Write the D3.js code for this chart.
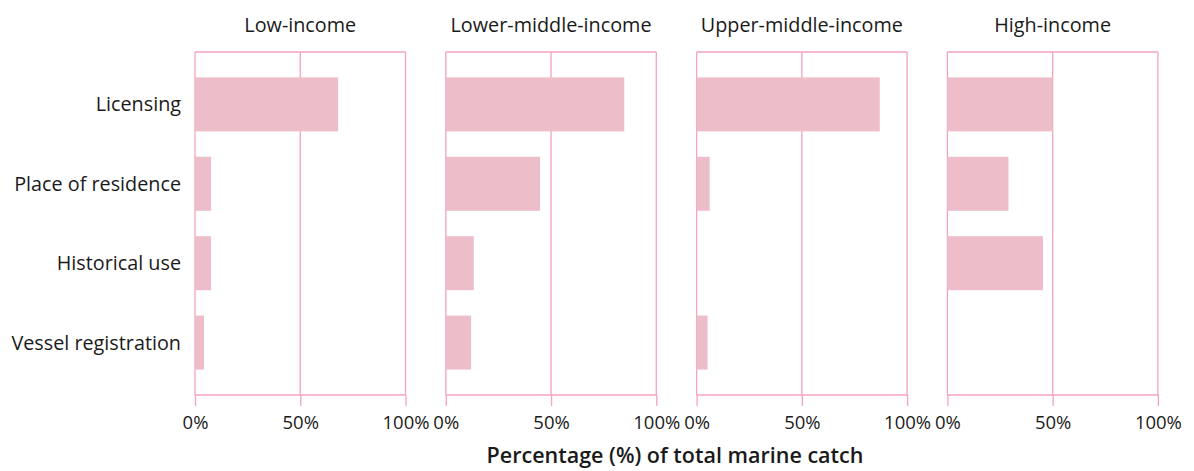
<!DOCTYPE html>
<html><head><meta charset="utf-8">
<script src="https://cdn.jsdelivr.net/npm/d3@7"></script>
<style>body{margin:0;background:#fff}text{font-family:"Open Sans","Noto Sans",sans-serif;fill:#1a1a1a}</style>
</head><body><svg id="c" width="1194" height="471"></svg>
<script>
const panels = ["Low-income","Lower-middle-income","Upper-middle-income","High-income"];
const categories = ["Licensing","Place of residence","Historical use","Vessel registration"];
const lowIncome = [68, 7.6, 7.6, 4.3];
const lowerMiddle = [84.8, 44.8, 13.3, 12];
const upperMiddle = [87, 6.2, 0, 5.2];
const highIncome = [50, 29, 45.4, 0];
const tickValues = [0, 50, 100];
const seriesList = [lowIncome, lowerMiddle, upperMiddle, highIncome];

(function(){
const svg = d3.select("#c");
const plotTop = 52, plotBottom = 395, pw = 210.5, gap = 40.3, left0 = 195;
const line = "#f4a3bb", fill = "#edbdca";
const y = d3.scaleBand().domain(categories).range([plotTop, plotBottom]).padding(0.32);

panels.forEach((p, i) => {
  const x0 = left0 + i * (pw + gap);
  const x = d3.scaleLinear().domain([0, 100]).range([x0, x0 + pw]);
  const g = svg.append("g");
  g.append("text").attr("x", x(50)).attr("y", 32).attr("text-anchor", "middle")
    .attr("font-size", 19.8).text(p);
  g.append("line").attr("x1", x(0)).attr("x2", x(100)).attr("y1", plotTop).attr("y2", plotTop)
    .attr("stroke", line).attr("stroke-width", 1.5);
  tickValues.forEach(t => {
    g.append("line").attr("x1", x(t)).attr("x2", x(t)).attr("y1", plotTop).attr("y2", plotBottom)
      .attr("stroke", line).attr("stroke-width", 1.3);
  });
  g.selectAll("rect").data(seriesList[i]).join("rect")
    .attr("x", x(0)).attr("y", (d, j) => y(categories[j]))
    .attr("width", d => x(d) - x(0)).attr("height", y.bandwidth())
    .attr("fill", fill);
  const ax = g.append("g").attr("transform", `translate(0,${plotBottom})`)
    .call(d3.axisBottom(x).tickValues(tickValues).tickFormat(d => d + "%").tickSize(11).tickPadding(10));
  ax.select(".domain").attr("stroke", line).attr("stroke-width", 1.5).attr("d", `M${x(0)},0H${x(100)}`);
  ax.selectAll(".tick line").attr("stroke", line).attr("stroke-width", 1.3);
  ax.selectAll(".tick text").attr("font-size", 18.5).attr("font-family", '"Open Sans","Noto Sans",sans-serif').attr("fill", "#1a1a1a");
  if (i === 0) {
    g.selectAll(".cat").data(categories).join("text").attr("class", "cat")
      .attr("x", 181).attr("y", d => y(d) + y.bandwidth() / 2).attr("dy", "0.35em")
      .attr("text-anchor", "end").attr("font-size", 19.8).text(d => d);
  }
});
svg.append("text").attr("x", 675).attr("y", 463).attr("text-anchor", "middle")
  .attr("font-size", 21.5).attr("font-weight", 600).text("Percentage (%) of total marine catch");
})();
</script></body></html>
